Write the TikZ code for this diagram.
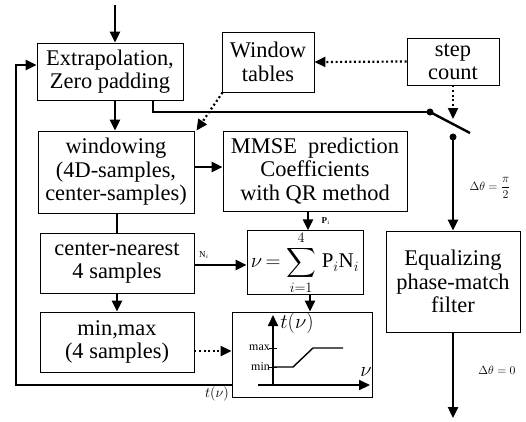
\documentclass[tikz,border=0pt]{standalone}
\usepackage{amsmath}
\usepackage{fontspec}
\setmainfont{Liberation Serif}
\usetikzlibrary{arrows.meta}
\begin{document}
\begin{tikzpicture}[x=1bp,y=-1bp,
  box/.style={draw, line width=0.9bp, rectangle, inner sep=0pt, align=center,
    font=\fontsize{22.5}{23.5}\selectfont},
  flow/.style={line width=2.4bp, -{Triangle[length=11bp,width=10bp]}},
  plain/.style={line width=2.4bp},
  dots/.style={line width=2.2bp, dash pattern=on 2bp off 2.6bp, -{Triangle[length=11bp,width=10bp]}},
  dotend/.style={circle, fill, inner sep=0pt, minimum size=7bp},
  small/.style={inner sep=0pt, font=\fontsize{#1}{#1}\selectfont}
]
\useasboundingbox (0,0) rectangle (526,421);

% boxes
\node[box, minimum width=146bp, minimum height=57bp] (ext) at (110,71.5) {Extrapolation,\\Zero padding};
\node[box, minimum width=92bp, minimum height=60bp] (wt) at (268,62) {Window\\tables};
\node[box, minimum width=92bp, minimum height=47bp] (sc) at (453,61.5) {step\\count};
\node[box, minimum width=156bp, minimum height=82bp] (win) at (116,172) {windowing\\(4D-samples,\\center-samples)};
\node[box, minimum width=184bp, minimum height=80bp] (mmse) at (315,171) {MMSE\ \ prediction\\Coefficients\\with QR method};
\node[box, minimum width=154bp, minimum height=60bp] (cn) at (117,263) {center-nearest\\4 samples};
\node[box, minimum width=116bp, minimum height=61bp, font=\fontsize{21}{24}\selectfont] (frm) at (305,262.5)
  {$\nu \mkern-2mu= \displaystyle\sum_{i=1}^{4}\mkern2mu \mathrm{P}_i\mathrm{N}_i$};
\node[box, minimum width=154bp, minimum height=60bp] (mm) at (117,342) {min,max\\(4 samples)};
\node[box, minimum width=140bp, minimum height=85bp] (gr) at (302,354.5) {};
\node[box, minimum width=134bp, minimum height=101bp] (eq) at (453,281.5) {Equalizing\\phase-match\\filter};

% helper coordinates
\coordinate (cx) at (115,0);
\coordinate (eb) at (153,0);
\coordinate (in) at (115,5);
\coordinate (s1) at (430,112);
\coordinate (s2) at (470,133);
\coordinate (s3) at (453,137);
\coordinate (swtip) at (453,119);
\coordinate (out) at (453,418);
\coordinate (fb) at (16,65);
\coordinate (px) at (308,0);

% main flow
\draw[flow] (in) -- (cx |- ext.north);
\draw[flow] (cx |- ext.south) -- (cx |- win.north);
\draw[plain] (eb |- ext.south) |- (s1);
\draw[plain] (s1) -- (s2);
\node[dotend] (d1) at (s1) {};
\node[dotend] (d2) at (s3) {};
\draw[flow] (d2.center) -- (s3 |- eq.north);
\draw[flow] (eq.south) -- (out);

% dotted controls
\draw[dots] (sc.west) -- (wt.east);
\draw[dots] (sc.south) -- (swtip);
\draw[dots] ([xshift=1bp]wt.south west) -- ([xshift=2bp]win.north east);

% left column
\draw[flow] ([yshift=5bp]win.east) -- ([yshift=5bp]win.east -| mmse.west);
\draw[plain] (cn.north |- win.south) -- (cn.north);
\draw[flow] (cn.south) -- (mm.north);
\draw[flow] ([yshift=-2bp]cn.east) -- ([yshift=-2bp]cn.east -| frm.west);
\node[small=9] (nl) at (204,255) {N$_i$};
\draw[flow] (px |- mmse.south) -- (px |- frm.north);
\node[small=9, font=\bfseries\fontsize{9}{9}\selectfont] (pl) at (326,221) {P$_i$};
\draw[flow] ([xshift=5bp]frm.south) -- ([xshift=5bp]frm.south |- gr.north);
\draw[dots] ([yshift=-9bp]mm.east) -- ([yshift=-9bp]mm.east -| gr.west);

% feedback
\draw[flow] ([yshift=-30.5bp]gr.west) -| (fb) |- ([yshift=6.5bp]ext.west);
\node[small=15] (tl) at (217,394) {$t(\nu)$};

% graph
\coordinate (o) at (273,385);
\coordinate (ytop) at (273,315);
\coordinate (xl) at (258,385);
\coordinate (xr) at (370,385);
\draw[flow, line width=2bp] (o) -- (ytop);
\draw[flow, line width=2bp] (xl) -- (xr);
\draw[line width=1.4bp] (273,367) -- (293,367) -- (313,348) -- (343,348);
\draw[line width=1bp] (269,348) -- (277,348);
\draw[line width=1bp] (269,367) -- (277,367);
\node[small=12, anchor=east] (mx) at (270,348) {max};
\node[small=12, anchor=east] (mn) at (270,367) {min};
\node[small=20] (ty) at (297,323) {$t(\nu)$};
\node[small=22] (nx) at (366,372) {$\nu$};

% phase labels
\node[small=13] (p1) at (490,188) {$\Delta\theta = {\displaystyle\frac{\pi}{2}}$};
\node[small=12] (p2) at (497,370) {$\Delta\theta = 0$};
\end{tikzpicture}
\end{document}
